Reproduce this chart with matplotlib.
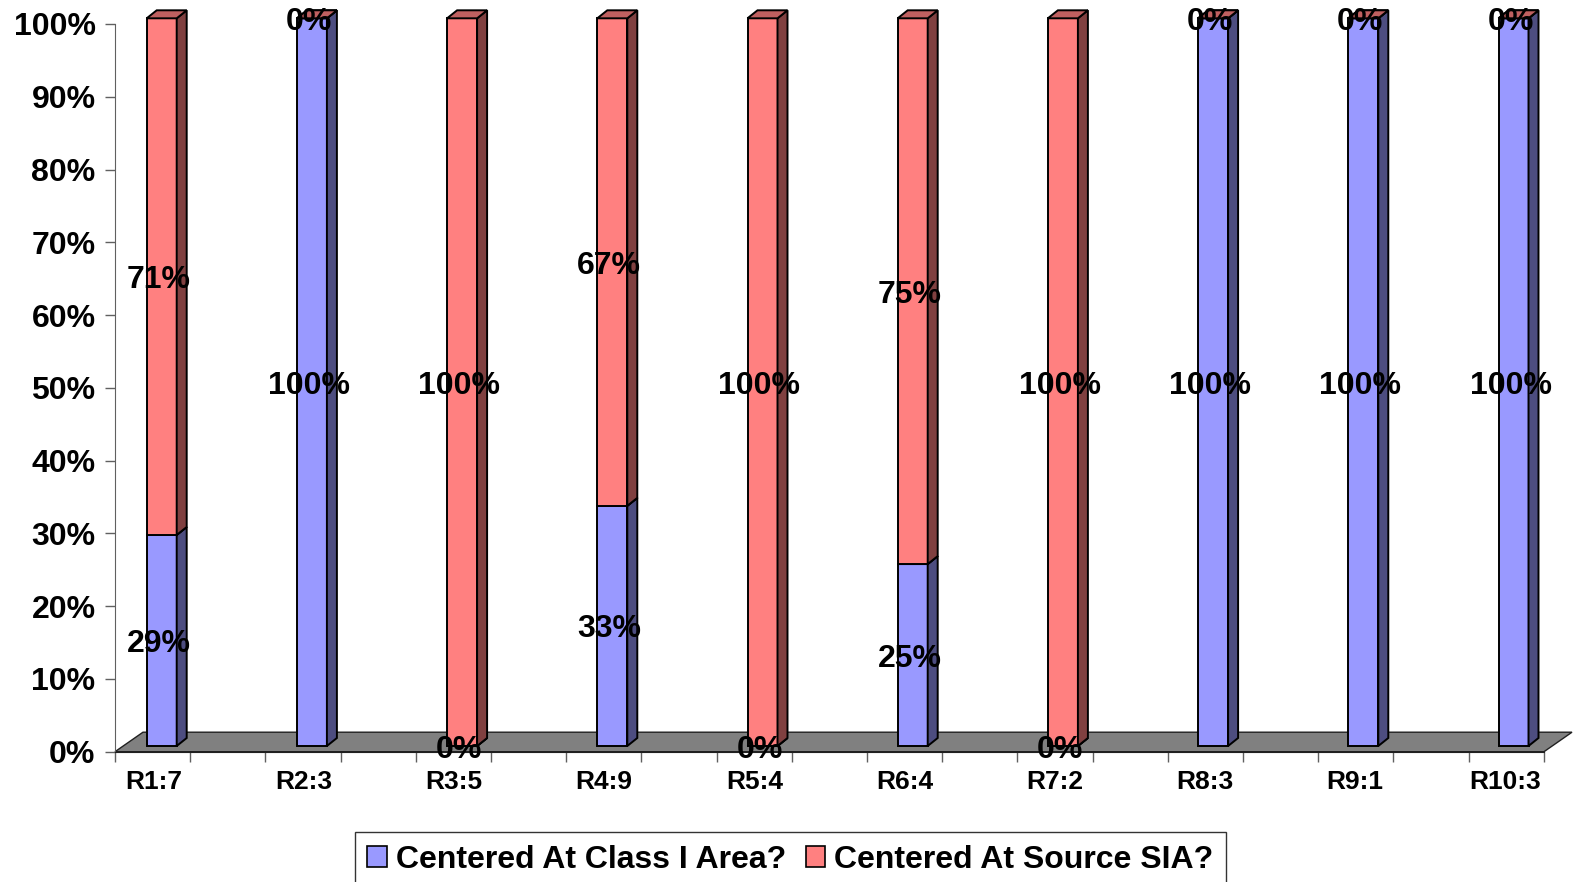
import numpy as np
import matplotlib
matplotlib.use("Agg")
import matplotlib.pyplot as plt
from matplotlib.patches import Polygon, Patch

# donnees
categories = ['R1:7', 'R2:3', 'R3:5', 'R4:9', 'R5:4', 'R6:4', 'R7:2', 'R8:3', 'R9:1', 'R10:3']
class1_pct = [29, 100, 0, 33, 0, 25, 0, 100, 100, 100]
source_pct = [71, 0, 100, 67, 100, 75, 100, 0, 0, 0]
series_names = ['Centered At Class I Area?', 'Centered At Source SIA?']

plt.rcParams['font.family'] = ['Liberation Sans', 'DejaVu Sans']
plt.rcParams['font.weight'] = 'bold'

W, H = 1581, 882
fig = plt.figure(figsize=(W / 100, H / 100), dpi=100)

# zone du graphique (pixels)
px_left, px_right = 115, 1544
px_bot, px_top = 751.7, 24
ax = fig.add_axes([px_left / W, 1 - px_bot / H, (px_right - px_left) / W, (px_bot - px_top) / H])

cat_px = 150.2   # pixels par categorie
pct_px = (px_bot - px_top) / 100.0
x0 = (px_left - 153.5) / cat_px
x1 = (px_right - 153.5) / cat_px
ax.set_xlim(x0, x1)
ax.set_ylim(0, 100)

def dx(p):
    return p / cat_px

def dy(p):
    return p / pct_px

# effet 3D
floor_dx, floor_dy = dx(28), dy(19.5)
front_dx, front_dy = dx(8.2), dy(5.7)
side_dx, side_dy = dx(10), dy(8)
bar_w = dx(30)

floor = Polygon([(x0, 0), (x1, 0), (x1 + floor_dx, floor_dy), (x0 + floor_dx, floor_dy)],
                closed=True, facecolor='#808080', edgecolor='#202020', lw=1.0, zorder=1, clip_on=False)
ax.add_patch(floor)

def draw_segment(xc, y0, y1, face, side, top):
    xl = xc - bar_w / 2 + front_dx
    xr = xc + bar_w / 2 + front_dx
    b = y0 + front_dy
    t = y1 + front_dy
    kw = dict(closed=True, edgecolor='black', lw=1.4, zorder=3, clip_on=False, joinstyle='miter')
    ax.add_patch(Polygon([(xl, b), (xr, b), (xr, t), (xl, t)], facecolor=face, **kw))
    ax.add_patch(Polygon([(xr, b), (xr + side_dx, b + side_dy), (xr + side_dx, t + side_dy), (xr, t)],
                         facecolor=side, **kw))
    ax.add_patch(Polygon([(xl, t), (xl + side_dx, t + side_dy), (xr + side_dx, t + side_dy), (xr, t)],
                         facecolor=top, **kw))

blue = ('#9999FF', '#4D4D80', '#7373BF')
red = ('#FF8080', '#804040', '#BF6060')

for i in range(len(categories)):
    a = class1_pct[i]
    b = source_pct[i]
    draw_segment(i, 0, a, *blue)
    draw_segment(i, a, a + b, *red)

# etiquettes de donnees
lab_dx, lab_dy = front_dx - dx(3), front_dy - dy(3.5)
for i in range(len(categories)):
    a = class1_pct[i]
    b = source_pct[i]
    for val, mid in ((a, a / 2), (b, a + b / 2)):
        ax.text(i + lab_dx, mid + lab_dy, f'{val}%', ha='center', va='center',
                fontsize=23, fontweight='bold', zorder=10, clip_on=False)

# axes
ax.set_yticks(np.arange(0, 101, 10))
ax.set_yticklabels([f'{v}%' for v in range(0, 101, 10)])
ax.tick_params(axis='y', length=7.5, width=1, color='#606060', pad=6.5, labelsize=23)

step = dx(75.2)
ax.set_xticks([x0 + k * step for k in range(20)])
ax.set_xticklabels([])
ax.tick_params(axis='x', which='major', length=7.5, width=1, color='#606060')
ax.set_xticks(range(len(categories)), minor=True)
ax.set_xticklabels(categories, minor=True)
ax.tick_params(axis='x', which='minor', length=0, pad=13, labelsize=19)
for lab in ax.get_xticklabels(minor=True) + ax.get_yticklabels():
    lab.set_fontweight('bold')

for s in ['top', 'right']:
    ax.spines[s].set_visible(False)
ax.spines['left'].set_color('#606060')
ax.spines['bottom'].set_color('#202020')
ax.patch.set_visible(False)

handles = [Patch(facecolor=blue[0], edgecolor='black', lw=1.2),
           Patch(facecolor=red[0], edgecolor='black', lw=1.2)]
leg = fig.legend(handles, series_names, loc='upper center', bbox_to_anchor=(0.5, 1 - 832 / H),
                 ncol=2, frameon=True, fancybox=False, edgecolor='black',
                 prop={'size': 23, 'weight': 'bold'}, handlelength=0.6, handleheight=0.6,
                 handletextpad=0.3, columnspacing=0.6, borderpad=0.4, borderaxespad=0)
leg.get_frame().set_linewidth(1.0)

fig.savefig('out.png', dpi=100)
